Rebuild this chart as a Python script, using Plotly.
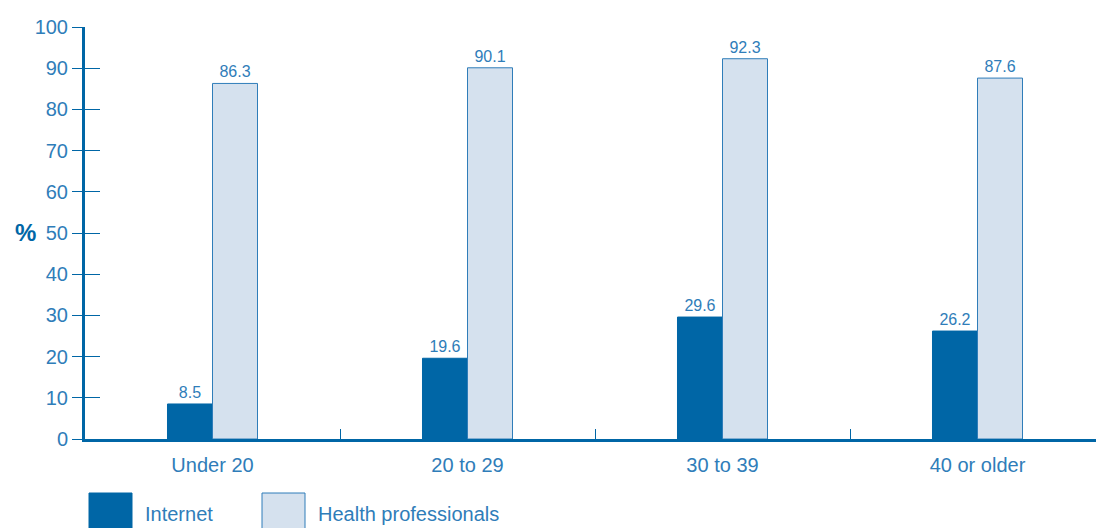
import plotly.graph_objects as go

categories = ["Under 20", "20 to 29", "30 to 39", "40 or older"]
internet = [8.5, 19.6, 29.6, 26.2]
health = [86.3, 90.1, 92.3, 87.6]
series_names = ["Internet", "Health professionals"]
y_ticks = [0, 10, 20, 30, 40, 50, 60, 70, 80, 90, 100]

W, H = 1096, 528
ML, MR, MT, MB = 85, 0, 27, 89
PW, PH = W - ML - MR, H - MT - MB

DARK = "#0066a6"
LIGHT = "#d5e1ee"
EDGE = "#2f7db9"
TXT = "#2f7db9"
FONT = "Liberation Sans, Arial, sans-serif"

def px_x(x):
    return (x - ML) / PW

def px_y(y):
    return (H - MB - y) / PH

xs = list(range(len(categories)))

fig = go.Figure()
fig.add_trace(go.Bar(
    x=xs, y=internet, name=series_names[0],
    marker=dict(color=DARK, line=dict(color=DARK, width=1)),
    text=[f"{v:.1f}" for v in internet], textposition="outside",
    textfont=dict(color=TXT, size=16, family=FONT), cliponaxis=False,
))
fig.add_trace(go.Bar(
    x=xs, y=health, name=series_names[1],
    marker=dict(color=LIGHT, line=dict(color=EDGE, width=1)),
    text=[f"{v:.1f}" for v in health], textposition="outside",
    textfont=dict(color=TXT, size=16, family=FONT), cliponaxis=False,
))

x_end = -0.5 + PW / 255.0

fig.update_layout(
    width=W, height=H,
    margin=dict(l=ML, r=MR, t=MT, b=MB, autoexpand=False),
    paper_bgcolor="white", plot_bgcolor="white",
    barmode="group", bargap=0.647, bargroupgap=0,
    showlegend=False,
    font=dict(family=FONT, color=TXT, size=18),
    uniformtext=dict(minsize=16, mode="show"),
    xaxis=dict(
        range=[-0.5, x_end], tickmode="array", tickvals=xs, ticktext=categories,
        ticks="", showgrid=False, zeroline=False, automargin=False,
        showline=True, linecolor=DARK, linewidth=3,
        tickfont=dict(size=20, color=TXT, family=FONT),
        ticklabelstandoff=6,
        minor=dict(tickmode="array", tickvals=[0.5, 1.5, 2.5], ticks="inside",
                   ticklen=10, tickcolor=DARK, tickwidth=1, showgrid=False),
    ),
    yaxis=dict(
        range=[0, 100], tickmode="array", tickvals=y_ticks, automargin=False,
        ticks="outside", ticklen=10, tickcolor=DARK, tickwidth=1,
        showgrid=False, zeroline=False, showline=True, linecolor=DARK, linewidth=3,
        tickfont=dict(size=20, color=TXT, family=FONT), ticklabelstandoff=0,
    ),
    yaxis2=dict(
        range=[0, 100], overlaying="y", side="left", tickmode="array", tickvals=y_ticks,
        ticks="inside", ticklen=15, tickcolor=DARK, tickwidth=1, automargin=False,
        showticklabels=False, showgrid=False, zeroline=False, showline=False,
    ),
)
# invisible trace to activate yaxis2
fig.add_trace(go.Scatter(x=[0], y=[0], yaxis="y2", mode="markers",
                         marker=dict(opacity=0), hoverinfo="skip", showlegend=False))

fig.add_annotation(text="<b>%</b>", x=px_x(25), y=px_y(232), xref="paper", yref="paper",
                   xanchor="center", yanchor="middle",
                   showarrow=False, font=dict(size=24, color=DARK, family=FONT))

# legend
legend_items = [(89, 132, 143, series_names[0], DARK, DARK),
                (262, 305, 316, series_names[1], LIGHT, EDGE)]
for x0, x1, tx, name, fill, edge in legend_items:
    fig.add_shape(type="rect", xref="paper", yref="paper",
                  x0=px_x(x0), x1=px_x(x1), y0=px_y(493), y1=px_y(540),
                  fillcolor=fill, line=dict(color=edge, width=1), layer="above")
    fig.add_annotation(text=name, x=px_x(tx), y=px_y(514), xref="paper", yref="paper",
                       xanchor="left", yanchor="middle", showarrow=False,
                       font=dict(size=20, color=TXT, family=FONT))

fig.write_html(
    "out.html",
    config={"displayModeBar": False},
    post_script="document.body.style.margin='0';document.body.style.overflow='hidden';",
)
